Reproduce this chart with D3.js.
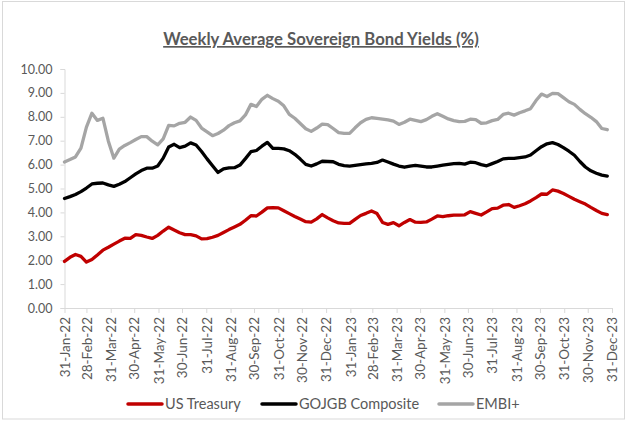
<!DOCTYPE html>
<html>
<head>
<meta charset="utf-8">
<script src="https://cdn.jsdelivr.net/npm/d3@7"></script>
<style>
  html, body { margin: 0; padding: 0; background: #fff; }
  svg { display: block; font-family: "Lato", "Liberation Sans", sans-serif; }
</style>
</head>
<body>
<svg id="chart" width="627" height="421"></svg>
<script>
// Weekly observations, first week ending 31-Jan-2022
const weekCount = 100;
const firstWeek = new Date(Date.UTC(2022, 0, 31));

const usTreasury = [
  1.95, 2.12, 2.24, 2.16, 1.92, 2.03, 2.22, 2.42, 2.54, 2.67,
  2.80, 2.92, 2.91, 3.07, 3.04, 2.97, 2.91, 3.04, 3.22, 3.38,
  3.26, 3.15, 3.07, 3.07, 3.02, 2.89, 2.90, 2.96, 3.04, 3.16,
  3.28, 3.39, 3.50, 3.67, 3.86, 3.85, 4.01, 4.19, 4.20, 4.19,
  4.07, 3.95, 3.83, 3.72, 3.61, 3.59, 3.73, 3.91, 3.77, 3.65,
  3.56, 3.54, 3.54, 3.71, 3.87, 3.96, 4.06, 3.95, 3.58, 3.50,
  3.57, 3.44, 3.58, 3.70, 3.59, 3.58, 3.60, 3.72, 3.85, 3.82,
  3.86, 3.89, 3.89, 3.90, 4.03, 3.96, 3.89, 4.02, 4.16, 4.18,
  4.30, 4.33, 4.21, 4.28, 4.36, 4.48, 4.62, 4.77, 4.76, 4.94,
  4.89, 4.79, 4.67, 4.55, 4.45, 4.35, 4.21, 4.08, 3.96, 3.91
];

const gojgbComposite = [
  4.58, 4.66, 4.75, 4.87, 5.02, 5.19, 5.22, 5.23, 5.15, 5.09,
  5.18, 5.29, 5.45, 5.61, 5.75, 5.85, 5.85, 5.94, 6.27, 6.74,
  6.85, 6.71, 6.77, 6.91, 6.82, 6.55, 6.24, 5.95, 5.67, 5.82,
  5.86, 5.87, 5.98, 6.25, 6.54, 6.59, 6.77, 6.93, 6.68, 6.68,
  6.66, 6.58, 6.43, 6.23, 6.01, 5.94, 6.03, 6.14, 6.13, 6.12,
  6.01, 5.96, 5.94, 5.97, 6.00, 6.03, 6.05, 6.09, 6.19, 6.11,
  6.02, 5.94, 5.89, 5.94, 5.97, 5.94, 5.90, 5.90, 5.94, 5.98,
  6.01, 6.04, 6.05, 6.02, 6.10, 6.08, 6.00, 5.95, 6.04, 6.13,
  6.24, 6.26, 6.26, 6.29, 6.32, 6.40, 6.58, 6.75, 6.87, 6.92,
  6.84, 6.71, 6.56, 6.39, 6.13, 5.90, 5.74, 5.64, 5.56, 5.52
];

const embiPlus = [
  6.11, 6.21, 6.32, 6.69, 7.57, 8.15, 7.85, 7.94, 6.98, 6.27,
  6.65, 6.80, 6.92, 7.05, 7.17, 7.17, 6.98, 6.83, 7.08, 7.64,
  7.62, 7.73, 7.77, 7.99, 7.85, 7.53, 7.37, 7.21, 7.30, 7.44,
  7.63, 7.75, 7.83, 8.08, 8.52, 8.43, 8.73, 8.90, 8.76, 8.65,
  8.46, 8.10, 7.94, 7.72, 7.50, 7.39, 7.53, 7.69, 7.67, 7.51,
  7.34, 7.31, 7.31, 7.54, 7.75, 7.89, 7.96, 7.93, 7.90, 7.87,
  7.82, 7.68, 7.77, 7.90, 7.85, 7.80, 7.88, 8.02, 8.13, 8.02,
  7.91, 7.84, 7.80, 7.81, 7.90, 7.88, 7.73, 7.75, 7.84, 7.89,
  8.10, 8.15, 8.07, 8.17, 8.25, 8.34, 8.68, 8.95, 8.85, 8.98,
  8.97, 8.80, 8.63, 8.52, 8.31, 8.13, 7.98, 7.80, 7.51, 7.46
];

const yTicks = [0, 1, 2, 3, 4, 5, 6, 7, 8, 9, 10];
const seriesNames = ["US Treasury", "GOJGB Composite", "EMBI+"];
const seriesColors = ["#C00000", "#000000", "#A5A5A5"];

const weeks = d3.range(weekCount).map(i => d3.utcDay.offset(firstWeek, 7 * i));
const series = [usTreasury, gojgbComposite, embiPlus].map((vals, k) => ({
  name: seriesNames[k],
  color: seriesColors[k],
  points: vals.map((v, i) => ({ date: weeks[i], value: v }))
}));

// Month-end ticks on the date axis
const monthEnds = d3.utcMonth
  .range(new Date(Date.UTC(2022, 1, 1)), new Date(Date.UTC(2024, 0, 2)))
  .map(d => d3.utcDay.offset(d, -1));

const svg = d3.select("#chart");
const W = 627, H = 421;
const plot = { left: 64.5, right: 612, top: 69, bottom: 308 };

// Chart frame
svg.append("rect")
  .attr("x", 2.5).attr("y", 1.5)
  .attr("width", W - 5).attr("height", H - 3.5)
  .attr("fill", "#fff").attr("stroke", "#D9D9D9");

const x = d3.scaleUtc()
  .domain([firstWeek, monthEnds[monthEnds.length - 1]])
  .range([plot.left, plot.right]);
const y = d3.scaleLinear().domain([0, 10]).range([plot.bottom, plot.top]);

// Title
svg.append("text")
  .attr("x", 321).attr("y", 45)
  .attr("text-anchor", "middle")
  .attr("font-size", 16.7).attr("font-weight", "bold")
  .attr("fill", "#595959")
  .attr("text-decoration", "underline")
  .text("Weekly Average Sovereign Bond Yields (%)");

// Y axis
const yAxis = svg.append("g")
  .attr("transform", `translate(${plot.left},0)`)
  .call(d3.axisLeft(y).tickValues(yTicks).tickFormat(d3.format(".2f")).tickSize(4).tickPadding(8));
yAxis.select(".domain").attr("stroke", "#D9D9D9");
yAxis.selectAll(".tick line").attr("stroke", "#D9D9D9");
yAxis.selectAll("text").attr("fill", "#595959").attr("font-size", 12.5)
  .attr("font-family", "Lato, 'Liberation Sans', sans-serif");

// X axis
const xAxis = svg.append("g")
  .attr("transform", `translate(0,${plot.bottom})`)
  .call(d3.axisBottom(x).tickValues([firstWeek, ...monthEnds.slice(1)])
    .tickFormat(d3.utcFormat("%d-%b-%y")).tickSize(5).tickSizeOuter(0));
xAxis.select(".domain").attr("stroke", "#D9D9D9");
xAxis.selectAll(".tick line").attr("stroke", "#D9D9D9");
xAxis.selectAll("text")
  .attr("fill", "#595959").attr("font-size", 13.5)
  .attr("font-family", "Lato, 'Liberation Sans', sans-serif")
  .attr("text-anchor", "end")
  .attr("transform", "rotate(-90)")
  .attr("x", -9).attr("y", 0).attr("dy", "0.35em");

// Series lines
const line = d3.line().x(d => x(d.date)).y(d => y(d.value));
svg.append("g").selectAll("path")
  .data(series.slice().reverse())
  .join("path")
  .attr("fill", "none")
  .attr("stroke", d => d.color)
  .attr("stroke-width", 3.3)
  .attr("stroke-linejoin", "round")
  .attr("stroke-linecap", "round")
  .attr("d", d => line(d.points));

// Legend
const legendX = [128, 262, 439];
const legend = svg.append("g").selectAll("g")
  .data(series)
  .join("g")
  .attr("transform", (d, i) => `translate(${legendX[i]},404)`);
legend.append("line")
  .attr("x1", 0).attr("x2", 34)
  .attr("stroke", d => d.color).attr("stroke-width", 3.5)
  .attr("stroke-linecap", "round");
legend.append("text")
  .attr("x", 37).attr("dy", "0.35em")
  .attr("font-size", 14.5).attr("fill", "#595959")
  .text(d => d.name);
</script>
</body>
</html>
